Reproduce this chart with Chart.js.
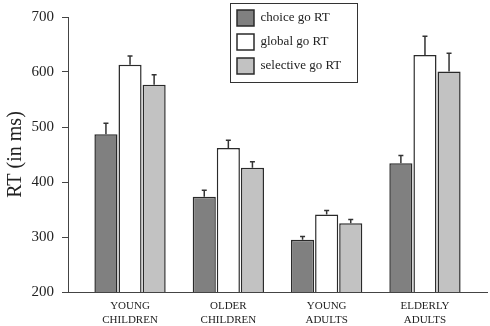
<!DOCTYPE html>
<html>
<head>
<meta charset="utf-8">
<script src="https://cdn.jsdelivr.net/npm/chart.js@4/dist/chart.umd.min.js"></script>
<style>
  html, body { margin: 0; padding: 0; background: #fff; }
  #wrap { width: 490px; height: 326px; }
</style>
</head>
<body>
<div id="wrap"><canvas id="rtChart"></canvas></div>
<script>
// groups on the x axis
const categories = ['YOUNG CHILDREN', 'OLDER CHILDREN', 'YOUNG ADULTS', 'ELDERLY ADULTS'];

// mean RT (ms) per condition
const choiceGo = [487, 373, 295, 434];
const globalGo = [613, 462, 341, 631];
const selectiveGo = [577, 426, 325, 601];

// error bar sizes (ms, upward only)
const choiceErr = [20, 12, 6, 14];
const globalErr = [16, 14, 7, 34];
const selectiveErr = [18, 11, 7, 33];

const yTicks = [200, 300, 400, 500, 600, 700];

const serif = "'Liberation Serif', 'Times New Roman', serif";
Chart.defaults.font.family = serif;
Chart.defaults.color = '#222';

function points(vals) {
  return vals.map((v, i) => ({ x: i + 1, y: v }));
}

const errorSets = [choiceErr, globalErr, selectiveErr];

// little whiskers on top of every bar
const errorBars = {
  id: 'errorBars',
  afterDatasetsDraw(chart) {
    const ctx = chart.ctx;
    const y = chart.scales.y;
    ctx.save();
    ctx.strokeStyle = '#333';
    ctx.lineWidth = 1.5;
    chart.data.datasets.forEach((ds, i) => {
      const meta = chart.getDatasetMeta(i);
      meta.data.forEach((bar, j) => {
        const top = y.getPixelForValue(ds.data[j].y + errorSets[i][j]);
        ctx.beginPath();
        ctx.moveTo(bar.x, bar.y);
        ctx.lineTo(bar.x, top);
        ctx.moveTo(bar.x - 2.5, top);
        ctx.lineTo(bar.x + 2.5, top);
        ctx.stroke();
      });
    });
    ctx.restore();
  }
};

// put the legend at the top middle and frame it
const legendBox = {
  id: 'legendBox',
  beforeDraw(chart) {
    const lg = chart.legend;
    const w = lg.width, h = lg.height;
    lg.left = 229; lg.top = 2;
    lg.right = lg.left + w; lg.bottom = lg.top + h;
  },
  afterDraw(chart) {
    const ctx = chart.ctx;
    ctx.save();
    ctx.strokeStyle = '#333';
    ctx.lineWidth = 1;
    ctx.strokeRect(230.5, 3.5, 127, 79);
    ctx.restore();
  }
};

new Chart(document.getElementById('rtChart'), {
  type: 'bar',
  data: {
    datasets: [
      { label: 'choice go RT', data: points(choiceGo), backgroundColor: '#808080', borderColor: '#2a2a2a', borderWidth: 1.5 },
      { label: 'global go RT', data: points(globalGo), backgroundColor: '#ffffff', borderColor: '#2a2a2a', borderWidth: 1.5 },
      { label: 'selective go RT', data: points(selectiveGo), backgroundColor: '#c2c2c2', borderColor: '#2a2a2a', borderWidth: 1.5 }
    ]
  },
  options: {
    responsive: true,
    maintainAspectRatio: false,
    animation: false,
    events: [],
    categoryPercentage: 0.735,
    barPercentage: 0.96,
    layout: { padding: { left: 0, right: 3, top: 15, bottom: 0 } },
    plugins: {
      tooltip: { enabled: false },
      legend: {
        position: 'chartArea',
        align: 'start',
        labels: {
          boxWidth: 17,
          boxHeight: 16,
          padding: 8,
          color: '#222',
          font: { size: 13, family: serif }
        }
      }
    },
    scales: {
      x: {
        type: 'linear',
        offset: false,
        min: 0.369,
        max: 4.631,
        grid: { display: false, drawTicks: false, offset: false },
        border: { display: true, color: '#444', width: 1 },
        afterBuildTicks(scale) {
          scale.ticks = categories.map((c, i) => ({ value: i + 1 }));
        },
        afterFit(scale) { scale.height = 34; },
        ticks: {
          autoSkip: false,
          maxRotation: 0,
          padding: 8,
          color: '#222',
          font: { size: 11, family: serif, lineHeight: 1.2 },
          callback: (v) => categories[Math.round(v) - 1].split(' ')
        }
      },
      y: {
        min: 200,
        max: 700,
        afterBuildTicks(scale) {
          scale.ticks = yTicks.map(v => ({ value: v }));
        },
        afterFit(scale) { scale.width = 68; },
        grid: { drawOnChartArea: false, drawTicks: true, tickLength: 6, color: '#444' },
        border: { display: true, color: '#444', width: 1 },
        ticks: {
          padding: 8,
          color: '#222',
          font: { size: 15, family: serif }
        },
        title: {
          display: true,
          text: 'RT (in ms)',
          color: '#222',
          padding: { top: 4, bottom: 0 },
          font: { size: 20, family: serif }
        }
      }
    }
  },
  plugins: [errorBars, legendBox]
});
</script>
</body>
</html>
